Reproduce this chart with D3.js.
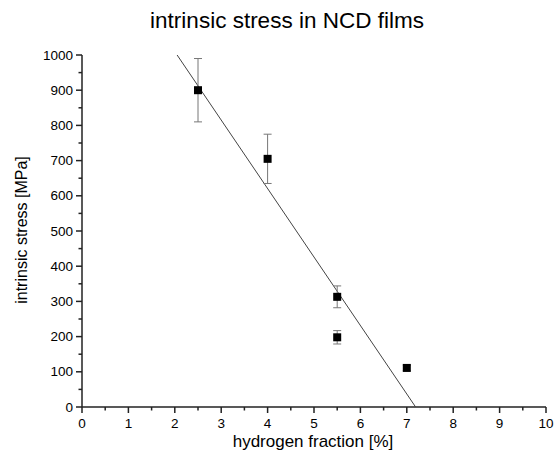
<!DOCTYPE html>
<html><head><meta charset="utf-8">
<script src="https://cdn.jsdelivr.net/npm/d3@7"></script>
<style>body{margin:0;background:#fff}svg{display:block}text{font-family:"Liberation Sans",Arial,sans-serif}</style>
</head><body><svg id="c" width="559" height="456"></svg>
<script>
const hydrogen = [2.5, 4.0, 5.5, 5.5, 7.0];
const stress = [900, 705, 313, 198, 111];
const stressErr = [90, 70, 31, 19, 8];
const fitX = [2.05, 7.19];
const fitY = [1000, 0];
const xTicks = [0,1,2,3,4,5,6,7,8,9,10];
const yTicks = [0,100,200,300,400,500,600,700,800,900,1000];

const svg = d3.select("#c");
const x = d3.scaleLinear().domain([0,10]).range([82,546]);
const y = d3.scaleLinear().domain([0,1000]).range([407,55]);

svg.append("text").attr("x",287).attr("y",28).attr("text-anchor","middle")
  .attr("font-size",22.5).text("intrinsic stress in NCD films");

// axes
const minorX = d3.range(0.5,10,1);
const minorY = d3.range(50,1000,100);
const g = svg.append("g").attr("stroke","#222").attr("stroke-width",1.5);
g.append("line").attr("x1",x(0)).attr("x2",x(10)).attr("y1",y(0)).attr("y2",y(0));
g.append("line").attr("x1",x(0)).attr("x2",x(0)).attr("y1",y(0)).attr("y2",y(1000));
g.selectAll(".xt").data(xTicks).join("line").attr("x1",d=>x(d)).attr("x2",d=>x(d)).attr("y1",y(0)).attr("y2",y(0)+6);
g.selectAll(".xm").data(minorX).join("line").attr("x1",d=>x(d)).attr("x2",d=>x(d)).attr("y1",y(0)).attr("y2",y(0)+3.5);
g.selectAll(".yt").data(yTicks).join("line").attr("x1",x(0)-6).attr("x2",x(0)).attr("y1",d=>y(d)).attr("y2",d=>y(d));
g.selectAll(".ym").data(minorY).join("line").attr("x1",x(0)-3.5).attr("x2",x(0)).attr("y1",d=>y(d)).attr("y2",d=>y(d));

svg.selectAll(".xl").data(xTicks).join("text").attr("x",d=>x(d)).attr("y",y(0)+21)
  .attr("text-anchor","middle").attr("font-size",13.5).text(d=>d);
svg.selectAll(".yl").data(yTicks).join("text").attr("x",x(0)-9).attr("y",d=>y(d)+4.5)
  .attr("text-anchor","end").attr("font-size",13.5).text(d=>d);

svg.append("text").attr("x",313).attr("y",447).attr("text-anchor","middle")
  .attr("font-size",17).text("hydrogen fraction [%]");
svg.append("text").attr("transform","translate(27,230) rotate(-90)").attr("text-anchor","middle")
  .attr("font-size",16).text("intrinsic stress [MPa]");

// fit line
svg.append("line").attr("x1",x(fitX[0])).attr("y1",y(fitY[0])).attr("x2",x(fitX[1])).attr("y2",y(fitY[1]))
  .attr("stroke","#444").attr("stroke-width",1);

// error bars
const idx = d3.range(hydrogen.length);
const eb = svg.append("g").attr("stroke","#777").attr("stroke-width",1);
eb.selectAll(".v").data(idx).join("line").attr("x1",i=>x(hydrogen[i])).attr("x2",i=>x(hydrogen[i]))
  .attr("y1",i=>y(stress[i]+stressErr[i])).attr("y2",i=>y(stress[i]-stressErr[i]));
eb.selectAll(".t").data(idx).join("line").attr("x1",i=>x(hydrogen[i])-4).attr("x2",i=>x(hydrogen[i])+4)
  .attr("y1",i=>y(stress[i]+stressErr[i])).attr("y2",i=>y(stress[i]+stressErr[i]));
eb.selectAll(".b").data(idx).join("line").attr("x1",i=>x(hydrogen[i])-4).attr("x2",i=>x(hydrogen[i])+4)
  .attr("y1",i=>y(stress[i]-stressErr[i])).attr("y2",i=>y(stress[i]-stressErr[i]));

svg.selectAll(".pt").data(idx).join("rect").attr("x",i=>x(hydrogen[i])-4).attr("y",i=>y(stress[i])-4)
  .attr("width",8).attr("height",8).attr("fill","#000");
</script></body></html>
